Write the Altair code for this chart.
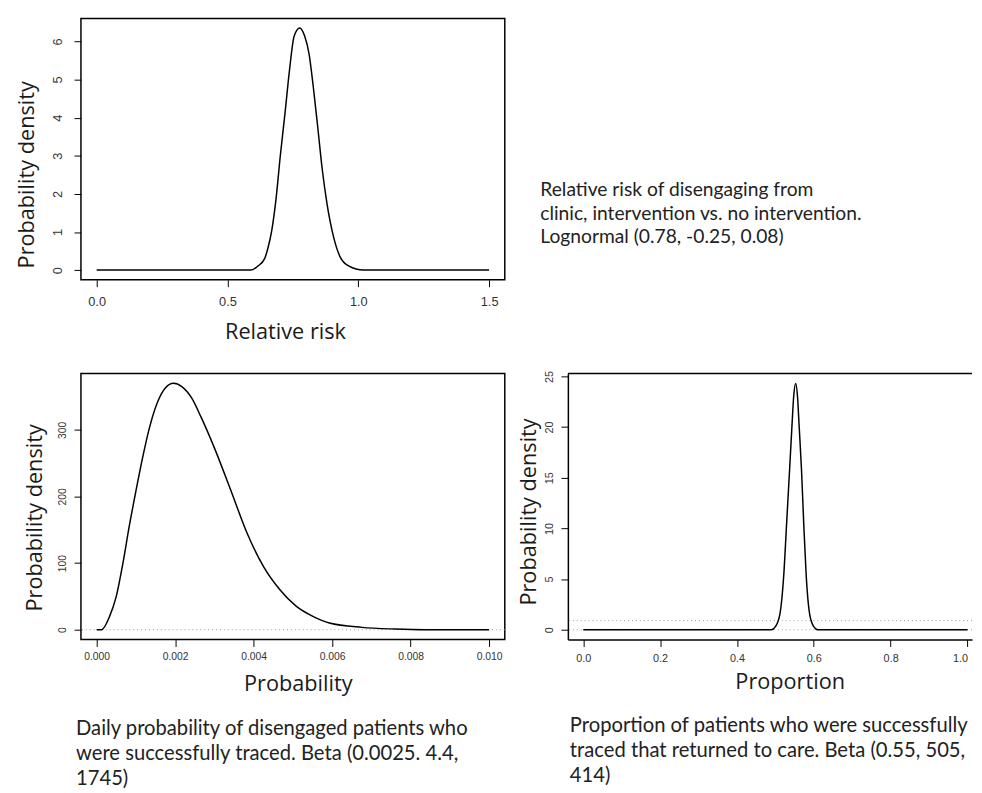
import altair as alt
import pandas as pd

# ---- data ----
RR_X = [0.0, 0.589, 0.617, 0.642, 0.654, 0.669, 0.686, 0.702, 0.720, 0.737, 0.755, 0.776,
        0.795, 0.812, 0.828, 0.846, 0.862, 0.881, 0.906, 0.931, 0.963, 1.02, 1.5]
RR_Y = [0.0, 0.0, 0.11, 0.30, 0.56, 1.03, 1.89, 3.0, 4.12, 5.24, 6.14, 6.35,
        6.14, 5.67, 4.81, 3.69, 2.66, 1.72, 0.86, 0.34, 0.11, 0.0, 0.0]

TR_X = [0.0, 0.000125, 0.00033, 0.0005, 0.00067, 0.00083, 0.0010, 0.00117, 0.00134, 0.00154,
        0.00175, 0.00196, 0.00217, 0.00242, 0.00267, 0.0030, 0.00342, 0.00384, 0.00426,
        0.00467, 0.00509, 0.00551, 0.00593, 0.00676, 0.0076, 0.0084, 0.010]
TR_Y = [0, 0, 20, 50, 100, 155, 208, 258, 302, 340,
        363, 370, 365, 348, 318, 273, 209, 144, 94,
        60, 35, 20, 10, 3.5, 1, 0, 0]

RC_X = [0.0, 0.49, 0.50, 0.512, 0.522, 0.529, 0.537, 0.543, 0.548, 0.553, 0.558, 0.562,
        0.568, 0.574, 0.580, 0.589, 0.60, 0.61, 1.0]
RC_Y = [0, 0, 0.3, 1.6, 5.5, 10.3, 15.8, 20.0, 23.2, 24.3, 22.8, 20.0,
        15.8, 10.3, 5.5, 1.6, 0.3, 0, 0]

RR_TICKS_X = [0, 0.5, 1.0, 1.5]
RR_TICKS_Y = [0, 1, 2, 3, 4, 5, 6]
TR_TICKS_X = [0, 0.002, 0.004, 0.006, 0.008, 0.010]
TR_TICKS_Y = [0, 100, 200, 300]
RC_TICKS_X = [0, 0.2, 0.4, 0.6, 0.8, 1.0]
RC_TICKS_Y = [0, 5, 10, 15, 20, 25]

CAPTION_TOP = ["Relative risk of disengaging from",
               "clinic, intervention vs. no intervention.",
               "Lognormal (0.78, -0.25, 0.08)"]
CAPTION_LEFT = ["Daily probability of disengaged patients who",
                "were successfully traced. Beta (0.0025. 4.4,",
                "1745)"]
CAPTION_RIGHT = ["Proportion of patients who were successfully",
                 "traced that returned to care. Beta (0.55, 505,",
                 "414)"]

TICK_FONT = "Liberation Sans"
TITLE_FONT = "Open Sans"
CAP_FONT = "Lato"
DOT = "#9a9a9a"

one = pd.DataFrame({"k": [0]})


def curve(xs, ys, X, Y):
    df = pd.DataFrame({"x": xs, "y": ys})
    return alt.Chart(df).mark_line(color="black", strokeWidth=1.5, interpolate="monotone").encode(x=X, y=Y)


def caption(lines, x, y, size, lh):
    return alt.Chart(one).mark_text(
        text=lines, align="left", baseline="alphabetic", font=CAP_FONT,
        fontSize=size, lineHeight=lh, color="#222"
    ).encode(x=alt.value(x), y=alt.value(y))


# ---- panel 1 : relative risk ----
X1 = alt.X("x:Q", scale=alt.Scale(domain=[-0.06, 1.56], nice=False, zero=False),
           axis=alt.Axis(values=RR_TICKS_X, format=".1f", labelFontSize=13, labelPadding=9.5,
                         title="Relative risk", titleX=207, titleY=60,
                         titleAlign="center", titleBaseline="alphabetic"))
Y1 = alt.Y("y:Q", scale=alt.Scale(domain=[-0.254, 6.6], nice=False, zero=False),
           axis=alt.Axis(values=RR_TICKS_Y, format="d", labelFontSize=13, labelAngle=270,
                         labelAlign="center", labelBaseline="alphabetic", labelPadding=13,
                         title="Probability density", titleAngle=270, titleX=-55, titleY=158,
                         titleAlign="center", titleBaseline="middle"))
p1 = curve(RR_X, RR_Y, X1, Y1).properties(width=430, height=265)

cap_top = caption(CAPTION_TOP, -28, 180, 19.5, 24).properties(
    width=410, height=265, view=alt.ViewBackground(stroke="transparent"))

# ---- panel 2 : daily tracing probability ----
X2 = alt.X("x:Q", scale=alt.Scale(domain=[-0.0004, 0.0104], nice=False, zero=False),
           axis=alt.Axis(values=TR_TICKS_X, format=".3f", labelFontSize=10.5, labelPadding=5,
                         title="Probability", titleX=220, titleY=52,
                         titleAlign="center", titleBaseline="alphabetic"))
Y2 = alt.Y("y:Q", scale=alt.Scale(domain=[-14.8, 384.8], nice=False, zero=False),
           axis=alt.Axis(values=TR_TICKS_Y, format="d", labelFontSize=10.5, labelAngle=270,
                         labelAlign="center", labelBaseline="alphabetic", labelPadding=9,
                         title="Probability density", titleAngle=270, titleX=-47, titleY=146,
                         titleAlign="center", titleBaseline="middle"))
dots2 = alt.Chart(pd.DataFrame({"y": [0]})).mark_rule(
    color=DOT, strokeDash=[1, 3], strokeWidth=1).encode(y=Y2)
p2 = alt.layer(
    dots2,
    curve(TR_X, TR_Y, X2, Y2),
    caption(CAPTION_LEFT, -5, 367, 20.5, 25.5),
).properties(width=430, height=270)

# ---- panel 3 : proportion returned to care ----
X3 = alt.X("x:Q", scale=alt.Scale(domain=[-0.04, 1.0118], nice=False, zero=False),
           axis=alt.Axis(values=RC_TICKS_X, format=".1f", labelFontSize=11, labelPadding=6,
                         labelFlush=8, domain=True, domainColor="black", domainWidth=1.5,
                         title="Proportion", titleX=225, titleY=50,
                         titleAlign="center", titleBaseline="alphabetic"))
Y3 = alt.Y("y:Q", scale=alt.Scale(domain=[-0.97, 25.3], nice=False, zero=False),
           axis=alt.Axis(values=RC_TICKS_Y, format="d", labelFontSize=11, labelAngle=270,
                         labelAlign="center", labelBaseline="alphabetic", labelPadding=9,
                         domain=True, domainColor="black", domainWidth=1.5,
                         title="Probability density", titleAngle=270, titleX=-40, titleY=140,
                         titleAlign="center", titleBaseline="middle"))
dots3 = alt.Chart(pd.DataFrame({"y": [0, 0.9]})).mark_rule(
    color=DOT, strokeDash=[1, 3], strokeWidth=1).encode(y=Y3)
top3 = alt.Chart(one).mark_rule(color="black", strokeWidth=1.5).encode(
    x=alt.value(0), x2=alt.value(410), y=alt.value(0))
p3 = alt.layer(
    dots3,
    curve(RC_X, RC_Y, X3, Y3),
    top3,
    caption(CAPTION_RIGHT, 2, 364, 20.5, 25.5),
).properties(width=410, height=270, view=alt.ViewBackground(stroke="transparent"))

chart = alt.concat(
    p1, cap_top, p2, p3, columns=2, bounds="flush",
    spacing={"row": 95, "column": 64},
).properties(
    padding={"left": 7, "top": 4, "right": 0, "bottom": 0},
    background="white",
).configure_view(
    stroke="black", strokeWidth=1.5
).configure_axis(
    grid=False, domain=False, tickColor="black", tickSize=7, tickWidth=1,
    labelColor="#333", labelFont=TICK_FONT, titleFont=TITLE_FONT, titleFontSize=22,
    titleFontWeight="normal", titleColor="#1a1a1a"
)

chart.save("out.html", embed_options={"renderer": "svg", "actions": False})
